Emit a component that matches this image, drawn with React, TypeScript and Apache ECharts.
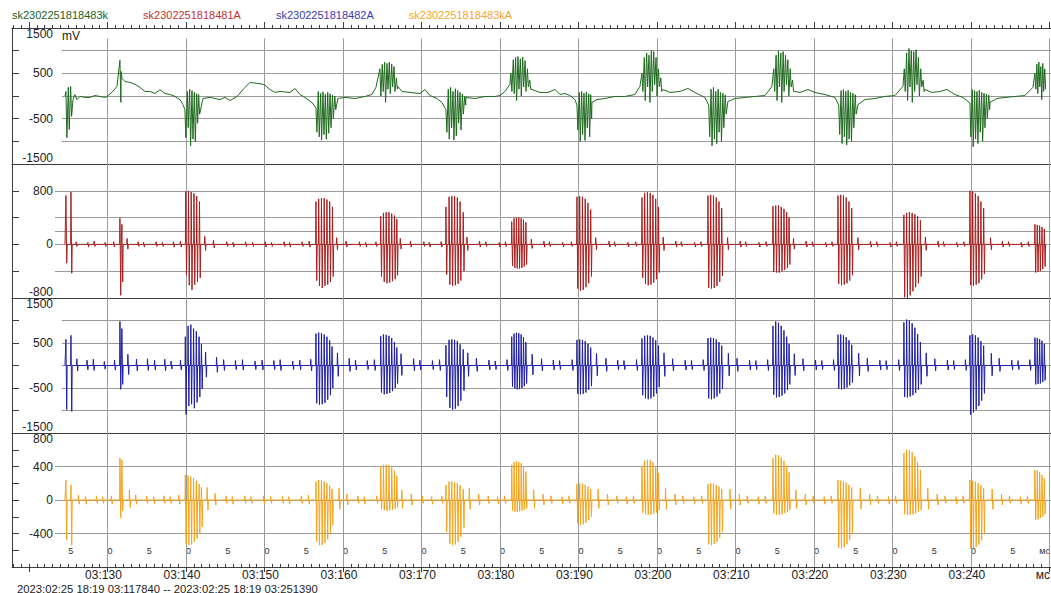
import React, { useEffect, useRef } from 'react';
import * as echarts from 'echarts';

// ---------- data ----------
const SERIES_NAMES = ['sk2302251818483k', 'sk2302251818481A', 'sk2302251818482A', 'sk2302251818483kA'];
const LINE_COLORS = ['#1f6a1f', '#a81e1e', '#1f1fa3', '#f5a31c'];
const LEGEND_COLORS = ['#1d5f1d', '#c33030', '#3b3bb3', '#f4a52a'];

const T_MIN = 117.84;
const T_MAX = 250.2;
const T_FIRST = 124.59;
const T_LAST = 249.6;

const TIME_LABELS = [130, 140, 150, 160, 170, 180, 190, 200, 210, 220, 230, 240];
const VERTICAL_LINES = [130, 140, 150, 160, 170, 180, 190, 200, 210, 220, 230, 240, 250];
const MAJOR_TICKS = [120, 130, 140, 150, 160, 170, 180, 190, 200, 210, 220, 230, 240, 250];
const HALF_LABELS = [125, 130, 135, 140, 145, 150, 155, 160, 165, 170, 175, 180, 185, 190, 195, 200, 205, 210, 215, 220, 225, 230, 235, 240, 245];

const Y_LABELS_1 = [1500, 500, -500, -1500];
const Y_LABELS_2 = [800, 0, -800];
const Y_LABELS_3 = [1500, 500, -500, -1500];
const Y_LABELS_4 = [800, 400, 0, -400];

const H_LINES_1 = [1000, 500, 0, -500, -1000];
const H_LINES_2 = [800, 400, 200, 0, -400];
const H_LINES_3 = [1000, 500, 0, -500, -1000];
const H_LINES_4 = [400, 0, -400];

// start time of each burst of pulses (shared by all four channels)
const BURST_STARTS = [124.71, 131.59, 139.87, 156.56, 164.71, 173.12, 181.4, 189.81, 198.09, 206.5, 214.78, 223.06, 231.46, 239.87, 248.15];

// green channel: slow baseline [t, mV]
const GREEN_BASE = [
  [124.59, 0], [125.61, -80], [125.86, 30], [126.11, -80], [126.5, -10], [127.13, -30], [127.77, -30], [128.41, 10], [129.04, -10], [129.68, -30], [129.94, -10], [130.57, 80], [131.21, 210],
  [131.97, 370], [132.23, 320], [132.87, 300], [133.5, 260], [134.14, 190], [134.78, 100], [135.41, 100], [136.05, 55], [136.69, 140], [137.32, 55], [137.96, 33], [138.6, -10], [139.24, -80], [139.62, -190],
  [142.17, -55], [143.06, -30], [144.33, -80], [144.97, -30], [145.61, -100], [146.5, -10], [147.52, 190], [148.15, 300], [149.04, 280], [149.94, 255], [150.7, 144], [151.34, 78], [151.97, 100], [153.25, 78], [153.89, 166], [154.52, 33], [155.16, -33], [156.05, -144],
  [159.36, -55], [160.25, -30], [161.53, -55], [162.8, -10], [163.69, 33], [164.2, 190],
  [167.01, 210], [167.52, 100], [168.54, 78], [169.81, 55], [170.45, 144], [171.08, 10], [171.97, -55], [172.61, -144],
  [175.67, -33], [176.82, -55], [178.09, -10], [179.36, -10], [180.0, 10], [180.64, 100], [181.27, 255],
  [184.08, 144], [185.1, 78], [186.11, 78], [187.01, 144], [187.64, 33], [188.28, 55], [188.92, 10], [189.55, -78],
  [191.72, -144], [192.36, -78], [193.38, -55], [194.65, -10], [195.92, -10], [197.2, 33], [197.83, 210],
  [200.76, 144], [201.66, 78], [202.93, 100], [203.95, 166], [204.84, 78], [206.11, -33],
  [209.04, -122], [209.94, -55], [211.21, -33], [212.48, -10], [213.76, 10], [214.65, 210],
  [217.58, 100], [218.22, 78], [219.24, 144], [220.13, 78], [221.4, 33], [222.68, -33],
  [225.61, -190], [226.5, -78], [227.77, -55], [229.04, -10], [230.32, 10], [231.34, 210],
  [234.14, 144], [235.03, 78], [236.05, 100], [236.94, 144], [237.96, 33], [238.98, -33],
  [242.42, -144], [243.31, -55], [244.33, -33], [245.61, -10], [246.88, 10], [247.9, 190],
  [249.6, 150],
];

// pulses inside each burst: [offset from burst start, high mV, low mV]
const GREEN_SPIKES = [
  [[0, 100, -920], [0.3, 190, -740], [0.6, 210, -450]],
  [[0, 790, -140], [0.15, 540, 380]],
  [[0, -300, -920], [0.3, 100, -700], [0.6, 150, -1100], [0.9, 120, -950], [1.2, 80, -1000], [1.5, 50, -600], [1.75, 30, -400]],
  [[0, -260, -800], [0.3, 100, -900], [0.6, 60, -970], [0.9, 90, -850], [1.2, 40, -950], [1.5, 80, -820], [1.8, 50, -700], [2.1, 20, -500], [2.4, 0, -300]],
  [[0, 600, 0], [0.3, 700, 100], [0.6, 750, -140], [0.9, 720, 150], [1.2, 740, 50], [1.5, 700, 200], [1.8, 650, 100], [2.1, 400, 150]],
  [[0, -300, -800], [0.3, 150, -950], [0.6, 190, -700], [0.9, 100, -970], [1.2, 160, -880], [1.5, 120, -600], [1.8, 80, -750], [2.1, 40, -400], [2.4, 0, -200]],
  [[0, 500, 100], [0.3, 800, 50], [0.6, 850, -100], [0.9, 870, 150], [1.2, 820, 0], [1.5, 860, 200], [1.8, 780, 100], [2.1, 600, 200], [2.4, 350, 150]],
  [[0, -200, -750], [0.3, 80, -1000], [0.6, 100, -850], [0.9, 60, -980], [1.2, 90, -700], [1.5, 50, -900], [1.75, 30, -500]],
  [[0, 500, 100], [0.3, 850, -100], [0.6, 950, 200], [0.9, 900, -140], [1.2, 1000, 100], [1.5, 980, 250], [1.8, 850, 0], [2.1, 600, 200], [2.4, 400, 100]],
  [[0.1, -200, -900], [0.4, 150, -1100], [0.7, 190, -950], [1.0, 100, -1050], [1.3, 150, -800], [1.6, 80, -1000], [1.9, 60, -700], [2.2, 20, -400]],
  [[0.1, 600, 100], [0.4, 900, -100], [0.7, 1000, 200], [1.0, 950, -140], [1.3, 980, 100], [1.6, 900, 250], [1.9, 800, 0], [2.2, 600, 200], [2.5, 350, 100]],
  [[0.1, -200, -850], [0.4, 120, -1050], [0.7, 144, -900], [1.0, 100, -1080], [1.3, 130, -950], [1.6, 80, -1000], [1.9, 60, -700], [2.2, 30, -400]],
  [[0.05, 600, 100], [0.35, 950, -100], [0.65, 1050, 200], [0.95, 1000, -140], [1.25, 980, 100], [1.55, 1020, 250], [1.85, 850, 0], [2.15, 600, 200], [2.45, 350, 100]],
  [[0, -150, -900], [0.3, 144, -1120], [0.6, 120, -950], [0.9, 100, -1050], [1.2, 130, -800], [1.5, 80, -1000], [1.8, 60, -700], [2.1, 40, -500], [2.4, 20, -300]],
  [[0, 500, 150], [0.25, 700, 50], [0.5, 750, 200], [0.75, 650, -80], [1.0, 720, 100], [1.25, 600, 150]],
];

const RED_SPIKES = [
  [[0, 730, -280], [0.64, 780, -430]],
  [[0, 390, -760], [0.25, 300, -560]],
  [[0.1, 790, -460], [0.45, 800, -610], [0.8, 780, -680], [1.15, 760, -600], [1.5, 720, -560], [1.85, 640, -500]],
  [[0, 640, -540], [0.35, 680, -620], [0.7, 690, -650], [1.05, 690, -620], [1.4, 670, -600], [1.75, 640, -560], [2.1, 560, -480]],
  [[0.1, 420, -480], [0.45, 470, -560], [0.8, 480, -580], [1.15, 480, -570], [1.5, 460, -550], [1.85, 430, -520], [2.15, 380, -460]],
  [[0, 560, -450], [0.4, 710, -600], [0.75, 720, -620], [1.1, 720, -610], [1.45, 700, -590], [1.8, 640, -540], [2.2, 480, -400]],
  [[0.1, 340, -320], [0.4, 390, -350], [0.7, 400, -360], [1.0, 400, -360], [1.3, 390, -350], [1.6, 370, -330], [1.9, 330, -300]],
  [[0, 710, -660], [0.35, 720, -690], [0.7, 710, -680], [1.05, 680, -640], [1.4, 620, -580], [1.75, 520, -480]],
  [[0, 700, -500], [0.35, 770, -590], [0.7, 780, -610], [1.05, 770, -600], [1.4, 740, -570], [1.75, 680, -520], [2.1, 560, -420]],
  [[0, 730, -650], [0.35, 740, -660], [0.7, 730, -650], [1.05, 700, -620], [1.4, 640, -560], [1.75, 540, -470]],
  [[0, 570, -410], [0.35, 580, -420], [0.7, 580, -420], [1.05, 560, -400], [1.4, 530, -380], [1.75, 480, -350], [2.05, 400, -300]],
  [[0, 730, -590], [0.35, 740, -610], [0.7, 730, -600], [1.05, 700, -580], [1.4, 640, -540], [1.75, 540, -460]],
  [[0, 440, -790], [0.35, 470, -800], [0.7, 480, -760], [1.05, 470, -700], [1.4, 450, -640], [1.75, 420, -580], [2.1, 360, -480]],
  [[0, 800, -610], [0.35, 790, -620], [0.7, 760, -600], [1.05, 720, -580], [1.4, 640, -520], [1.75, 540, -440]],
  [[0, 300, -420], [0.3, 290, -410], [0.6, 280, -400], [0.9, 260, -370], [1.2, 230, -330]],
];

const BLUE_SPIKES = [
  [[0, 580, -980], [0.64, 670, -1020]],
  [[0, 980, -530], [0.25, 820, -420]],
  [[0.05, 640, -1090], [0.4, 880, -900], [0.75, 910, -860], [1.1, 820, -950], [1.45, 760, -820], [1.8, 640, -700], [2.1, 480, -520]],
  [[0, 710, -840], [0.35, 730, -870], [0.7, 720, -860], [1.05, 690, -830], [1.4, 640, -760], [1.75, 560, -660], [2.05, 420, -500]],
  [[0.1, 650, -600], [0.45, 690, -640], [0.8, 680, -630], [1.15, 660, -610], [1.5, 610, -570], [1.85, 520, -500], [2.15, 400, -400]],
  [[0, 450, -700], [0.4, 570, -940], [0.75, 580, -980], [1.1, 570, -960], [1.45, 540, -900], [1.8, 470, -780], [2.2, 360, -560]],
  [[0.1, 640, -470], [0.4, 710, -510], [0.7, 730, -530], [1.0, 720, -525], [1.3, 690, -500], [1.6, 630, -460], [1.9, 520, -400]],
  [[0, 570, -630], [0.35, 580, -640], [0.7, 570, -630], [1.05, 540, -600], [1.4, 480, -540], [1.75, 400, -460]],
  [[0, 600, -660], [0.35, 660, -730], [0.7, 670, -750], [1.05, 660, -730], [1.4, 620, -690], [1.75, 560, -620], [2.1, 440, -480]],
  [[0, 610, -730], [0.35, 620, -750], [0.7, 610, -730], [1.05, 580, -690], [1.4, 520, -620], [1.75, 440, -520]],
  [[0, 880, -650], [0.35, 980, -710], [0.7, 950, -700], [1.05, 880, -670], [1.4, 780, -620], [1.75, 640, -540], [2.05, 480, -420]],
  [[0, 685, -520], [0.35, 690, -530], [0.7, 670, -520], [1.05, 630, -490], [1.4, 560, -440], [1.75, 460, -380]],
  [[0, 960, -700], [0.35, 1020, -710], [0.7, 1000, -690], [1.05, 940, -660], [1.4, 840, -610], [1.75, 700, -540], [2.1, 520, -420]],
  [[0, 670, -1090], [0.35, 690, -1040], [0.7, 670, -980], [1.05, 620, -900], [1.4, 540, -780], [1.75, 440, -620]],
  [[0, 620, -420], [0.3, 610, -410], [0.6, 590, -400], [0.9, 550, -370], [1.2, 480, -330]],
];

const ORANGE_SPIKES = [
  [[0, 240, -480], [0.64, 180, -540]],
  [[0, 500, -210], [0.25, 480, -130]],
  [[0.05, 300, -520], [0.4, 290, -540], [0.75, 280, -530], [1.1, 260, -500], [1.45, 230, -460], [1.8, 190, -400], [2.1, 150, -320]],
  [[0, 220, -500], [0.35, 240, -540], [0.7, 235, -535], [1.05, 220, -510], [1.4, 200, -470], [1.75, 170, -400], [2.05, 130, -300]],
  [[0.1, 400, -110], [0.45, 420, -120], [0.8, 420, -130], [1.15, 415, -125], [1.5, 390, -115], [1.85, 350, -105], [2.15, 290, -90]],
  [[0, 180, -380], [0.4, 220, -520], [0.75, 220, -540], [1.1, 215, -530], [1.45, 200, -500], [1.8, 175, -440], [2.2, 130, -330]],
  [[0.1, 420, -130], [0.4, 450, -140], [0.7, 460, -140], [1.0, 455, -135], [1.3, 440, -130], [1.6, 400, -115], [1.9, 340, -100]],
  [[0, 190, -280], [0.35, 200, -300], [0.7, 195, -290], [1.05, 180, -270], [1.4, 160, -240], [1.75, 130, -200]],
  [[0, 400, -150], [0.35, 470, -170], [0.7, 480, -180], [1.05, 475, -175], [1.4, 450, -165], [1.75, 400, -150], [2.1, 320, -120]],
  [[0, 190, -530], [0.35, 200, -540], [0.7, 195, -525], [1.05, 180, -500], [1.4, 160, -450], [1.75, 130, -380]],
  [[0, 500, -160], [0.35, 540, -180], [0.7, 535, -175], [1.05, 510, -170], [1.4, 470, -155], [1.75, 410, -140], [2.05, 330, -120]],
  [[0, 240, -570], [0.35, 230, -580], [0.7, 220, -565], [1.05, 205, -530], [1.4, 180, -480], [1.75, 150, -400]],
  [[0, 560, -170], [0.35, 600, -180], [0.7, 595, -178], [1.05, 570, -170], [1.4, 520, -160], [1.75, 450, -145], [2.1, 360, -120]],
  [[0, 240, -580], [0.35, 230, -575], [0.7, 220, -560], [1.05, 200, -530], [1.4, 175, -480], [1.75, 140, -400]],
  [[0, 360, -240], [0.3, 350, -230], [0.6, 330, -215], [0.9, 300, -200], [1.2, 260, -170]],
];

// small baseline pulses between bursts: [t, high mV, low mV]
const RED_RIPPLES = [
  [126.0, 40, -30], [127.5, 30, -40], [128.3, 50, -30], [129.7, 30, -30], [130.8, 40, -40],
  [132.5, 90, -70], [133.9, 40, -30], [134.6, 30, -40], [136.2, 40, -30], [137.0, 30, -30], [138.4, 40, -40], [139.3, 50, -40],
  [142.4, 120, -90], [143.5, 60, -50], [145.2, 40, -30], [146.0, 30, -40], [147.6, 40, -30], [148.5, 30, -30], [150.1, 40, -40], [150.9, 30, -30], [152.5, 40, -30], [153.2, 30, -40], [154.8, 40, -30], [155.7, 50, -40],
  [159.2, 100, -80], [160.4, 50, -40], [162.1, 40, -30], [162.9, 30, -40], [164.2, 40, -30],
  [167.3, 90, -70], [168.6, 50, -40], [170.3, 40, -30], [171.0, 30, -40], [172.5, 40, -40],
  [175.8, 110, -90], [177.4, 50, -40], [178.2, 40, -30], [179.9, 30, -40], [180.7, 40, -30],
  [184.0, 80, -60], [185.6, 50, -40], [186.3, 40, -30], [188.0, 30, -40], [189.1, 40, -30],
  [192.2, 100, -80], [193.9, 50, -40], [194.6, 40, -30], [196.3, 30, -40], [197.3, 40, -30],
  [200.8, 110, -90], [202.4, 50, -40], [203.1, 40, -30], [204.8, 30, -40], [205.6, 40, -30],
  [209.0, 100, -80], [210.6, 50, -40], [211.3, 40, -30], [213.0, 30, -40], [213.9, 40, -30],
  [217.4, 90, -70], [219.0, 50, -40], [219.8, 40, -30], [221.5, 30, -40], [222.3, 40, -30],
  [225.6, 100, -80], [227.2, 50, -40], [228.0, 40, -30], [229.7, 30, -40], [230.5, 40, -30],
  [234.2, 110, -90], [235.8, 50, -40], [236.5, 40, -30], [238.2, 30, -40], [239.1, 40, -30],
  [242.5, 100, -80], [244.0, 50, -40], [244.8, 40, -30], [246.4, 30, -40], [247.3, 40, -30],
];

const BLUE_RIPPLES = [
  [126.1, 150, -120], [127.4, 120, -100], [128.2, 140, -110], [129.6, 90, -80], [130.9, 120, -100],
  [132.6, 250, -200], [133.7, 140, -120], [135.1, 150, -110], [136.0, 120, -100], [137.3, 140, -120], [138.1, 100, -80], [139.3, 120, -100],
  [142.5, 300, -260], [143.9, 180, -150], [144.8, 130, -110], [146.3, 110, -90], [147.2, 130, -100], [148.8, 100, -90], [149.7, 120, -100], [151.2, 110, -90], [152.0, 130, -110], [153.6, 100, -90], [154.5, 120, -100], [155.9, 140, -120],
  [159.3, 280, -240], [160.8, 160, -130], [161.6, 120, -100], [163.1, 110, -90], [164.0, 130, -110],
  [167.4, 260, -220], [169.0, 150, -120], [169.8, 120, -100], [171.4, 110, -90], [172.3, 130, -110],
  [175.9, 280, -240], [177.0, 160, -130], [178.6, 120, -100], [179.4, 100, -90], [180.9, 130, -110],
  [184.1, 250, -210], [185.3, 150, -120], [186.8, 120, -100], [187.6, 110, -90], [189.2, 130, -110],
  [192.3, 270, -230], [193.5, 160, -130], [195.0, 120, -100], [195.8, 110, -90], [197.4, 130, -110],
  [200.9, 280, -240], [202.0, 150, -120], [203.6, 120, -100], [204.4, 110, -90], [205.9, 130, -110],
  [209.1, 270, -230], [210.2, 160, -130], [211.8, 120, -100], [212.6, 110, -90], [214.1, 130, -110],
  [217.5, 260, -220], [218.6, 150, -120], [220.2, 120, -100], [221.0, 110, -90], [222.5, 130, -110],
  [225.7, 270, -230], [226.8, 160, -130], [228.4, 120, -100], [229.2, 110, -90], [230.8, 130, -110],
  [234.3, 280, -240], [235.4, 150, -120], [237.0, 120, -100], [237.8, 110, -90], [239.3, 130, -110],
  [242.6, 270, -230], [243.6, 160, -130], [245.2, 120, -100], [246.0, 110, -90], [247.5, 130, -110],
];

const ORANGE_RIPPLES = [
  [126.3, 60, -50], [127.2, 40, -50], [128.6, 50, -40], [129.4, 40, -40], [130.5, 50, -50],
  [132.8, 120, -90], [133.6, 60, -50], [135.0, 50, -40], [135.9, 40, -50], [137.2, 50, -40], [138.0, 40, -40], [139.1, 60, -50],
  [142.7, 150, -120], [143.7, 80, -60], [145.1, 50, -40], [145.9, 40, -50], [147.5, 50, -40], [148.3, 40, -40], [149.9, 50, -50], [150.8, 40, -40], [152.3, 50, -40], [153.1, 40, -50], [154.7, 50, -40], [155.6, 60, -50],
  [159.5, 140, -110], [160.5, 70, -60], [161.9, 50, -40], [162.7, 40, -50], [164.3, 50, -40],
  [167.5, 120, -100], [168.7, 70, -60], [170.1, 50, -40], [171.3, 40, -50], [172.6, 50, -40],
  [176.1, 140, -110], [177.3, 70, -60], [178.5, 50, -40], [179.7, 40, -50], [180.6, 50, -40],
  [184.3, 120, -100], [185.5, 70, -60], [186.5, 50, -40], [187.9, 40, -50], [188.8, 50, -40],
  [192.5, 130, -100], [193.7, 70, -60], [194.9, 50, -40], [196.1, 40, -50], [197.0, 50, -40],
  [201.1, 140, -110], [202.3, 70, -60], [203.3, 50, -40], [204.7, 40, -50], [205.7, 50, -40],
  [209.3, 130, -110], [210.5, 70, -60], [211.5, 50, -40], [212.9, 40, -50], [213.8, 50, -40],
  [217.7, 120, -100], [218.9, 70, -60], [219.9, 50, -40], [221.3, 40, -50], [222.2, 50, -40],
  [225.9, 140, -110], [227.1, 70, -60], [228.1, 50, -40], [229.5, 40, -50], [230.4, 50, -40],
  [234.5, 140, -110], [235.7, 70, -60], [236.7, 50, -40], [238.1, 40, -50], [239.0, 50, -40],
  [242.7, 130, -110], [243.9, 70, -60], [244.9, 50, -40], [246.3, 40, -50], [247.2, 50, -40],
];

const FOOTER_TEXT = '2023:02:25 18:19 03:117840 -- 2023:02:25 18:19 03:251390';
const TIME_UNIT = 'мс';

// ---------- building ----------
type Spike = [number, number, number];

function burstEvents(bursts: number[][][]): Spike[] {
  const ev: Spike[] = [];
  bursts.forEach((b, i) => b.forEach((s) => ev.push([BURST_STARTS[i] + s[0], s[1], s[2]])));
  return ev;
}

function buildPulses(bursts: number[][][], ripples: number[][]) {
  const ev = burstEvents(bursts).concat(ripples.map((r) => [r[0], r[1], r[2]] as Spike));
  ev.sort((a, b) => a[0] - b[0]);
  const pts: number[][] = [[T_FIRST, 0]];
  ev.forEach(([t, hi, lo]) => {
    pts.push([t - 0.04, 0], [t, hi], [t + 0.1, lo], [t + 0.16, 0]);
  });
  pts.push([T_LAST, 0]);
  return pts;
}

function buildGreen() {
  const pts: number[][] = GREEN_BASE.map((p) => [p[0], p[1]]);
  burstEvents(GREEN_SPIKES).forEach(([t, hi, lo]) => {
    pts.push([t, hi], [t + 0.12, lo]);
  });
  pts.sort((a, b) => a[0] - b[0]);
  return pts;
}

const FONT = '"Liberation Sans", Arial, Helvetica, sans-serif';
const FRAME = '#3c3c3c';
const GRID_COLOR = '#9a9a9a';
const TEXT = '#222222';

const App: React.FC = () => {
  const ref = useRef<HTMLDivElement>(null);

  useEffect(() => {
    if (!ref.current) return;
    const chart = echarts.init(ref.current, undefined, { renderer: 'svg' });

    const seriesData = [
      buildGreen(),
      buildPulses(RED_SPIKES, RED_RIPPLES),
      buildPulses(BLUE_SPIKES, BLUE_RIPPLES),
      buildPulses(ORANGE_SPIKES, ORANGE_RIPPLES),
    ];

    const panels = [
      { top: 28, height: 136, min: -1500, max: 1500, interval: 500, labels: Y_LABELS_1, hLines: H_LINES_1, hStart: 124.2, vTop: 1270 },
      { top: 164, height: 134, min: -800, max: 1200, interval: 400, labels: Y_LABELS_2, hLines: H_LINES_2, hStart: 123.31, vTop: 1200 },
      { top: 298, height: 135, min: -1500, max: 1500, interval: 500, labels: Y_LABELS_3, hLines: H_LINES_3, hStart: 124.2, vTop: 1500 },
      { top: 433, height: 134, min: -800, max: 800, interval: 200, labels: Y_LABELS_4, hLines: H_LINES_4, hStart: 123.31, vTop: 800 },
    ];

    const minorTicks: number[] = [];
    for (let t = 118; t <= 250; t++) minorTicks.push(t);

    const grids = panels.map((p) => ({
      left: 12,
      right: 0,
      top: p.top,
      height: p.height,
      containLabel: false,
      outerBoundsMode: 'none',
      show: false,
    }));

    const baseX = (gi: number) => ({
      gridIndex: gi,
      type: 'value',
      min: T_MIN,
      max: T_MAX,
      splitLine: { show: false },
      axisPointer: { show: false },
    });

    const xAxes: any[] = panels.map((p, i) => ({
      ...baseX(i),
      position: 'bottom',
      axisLine: { show: true, onZero: false, lineStyle: { color: FRAME, width: 1 } },
      axisTick:
        i === 3
          ? { show: true, inside: true, length: 3, customValues: minorTicks, lineStyle: { color: FRAME } }
          : { show: false },
      axisLabel:
        i === 3
          ? {
              show: true,
              inside: true,
              customValues: HALF_LABELS,
              formatter: (v: number) => String(Math.round(v) % 10),
              fontSize: 9,
              fontFamily: FONT,
              color: '#333',
              align: 'left',
              verticalAlign: 'middle',
              margin: 16,
            }
          : { show: false },
    }));
    xAxes.push({
      ...baseX(0),
      position: 'top',
      axisLine: { show: true, onZero: false, lineStyle: { color: FRAME, width: 1 } },
      axisTick: { show: true, inside: false, length: 3, customValues: minorTicks, lineStyle: { color: FRAME } },
      axisLabel: { show: false },
    });
    xAxes.push({
      ...baseX(0),
      position: 'top',
      axisLine: { show: false, onZero: false },
      axisTick: { show: true, inside: false, length: 6, customValues: MAJOR_TICKS, lineStyle: { color: FRAME } },
      axisLabel: { show: false },
    });
    xAxes.push({
      ...baseX(3),
      position: 'bottom',
      axisLine: { show: false, onZero: false },
      axisTick: { show: true, inside: false, length: 5, customValues: MAJOR_TICKS, lineStyle: { color: FRAME } },
      axisLabel: {
        show: true,
        customValues: TIME_LABELS,
        formatter: (v: number) => '03:' + Math.round(v),
        fontSize: 12,
        fontFamily: FONT,
        color: TEXT,
        margin: 2,
        padding: [0, 8, 0, 0],
      },
    });

    const yAxes = panels.map((p, i) => ({
      gridIndex: i,
      type: 'value',
      min: p.min,
      max: p.max,
      interval: p.interval,
      axisLine: { show: true, onZero: false, lineStyle: { color: FRAME, width: 1 } },
      axisTick: { show: true, inside: true, length: 7, lineStyle: { color: FRAME } },
      splitLine: { show: false },
      axisPointer: { show: false },
      axisLabel: {
        show: true,
        inside: true,
        align: 'right',
        margin: 41,
        fontSize: 12,
        fontFamily: FONT,
        color: TEXT,
        showMinLabel: true,
        showMaxLabel: true,
        verticalAlignMaxLabel: 'top',
        verticalAlignMinLabel: 'bottom',
        formatter: (v: number) => (p.labels.indexOf(v) >= 0 ? String(v) : ''),
      },
    }));

    const gridLineSeries = panels.map((p, i) => ({
      type: 'line',
      xAxisIndex: i,
      yAxisIndex: i,
      data: [[T_MIN, 0]],
      symbol: 'none',
      silent: true,
      z: 1,
      lineStyle: { opacity: 0 },
      markLine: {
        silent: true,
        symbol: ['none', 'none'],
        animation: false,
        z: 1,
        label: { show: false },
        emphasis: { disabled: true },
        lineStyle: { color: GRID_COLOR, width: 1, type: 'solid' },
        data: [
          ...p.hLines.map((v) => [{ coord: [p.hStart, v] }, { coord: [T_MAX, v] }]),
          ...VERTICAL_LINES.map((t) => [{ coord: [t, p.vTop] }, { coord: [t, p.min] }]),
        ],
      },
    }));

    const dataSeries = seriesData.map((pts, i) => ({
      name: SERIES_NAMES[i],
      type: 'line',
      xAxisIndex: i,
      yAxisIndex: i,
      data: pts,
      symbol: 'none',
      showSymbol: false,
      silent: true,
      z: 10,
      lineStyle: { color: LINE_COLORS[i], width: 1 },
      itemStyle: { color: LINE_COLORS[i] },
      emphasis: { disabled: true },
    }));

    chart.setOption({
      animation: false,
      backgroundColor: '#ffffff',
      textStyle: { fontFamily: FONT },
      legend: {
        left: 7,
        top: 9,
        padding: 0,
        itemWidth: 0,
        itemHeight: 0,
        itemGap: 30,
        selectedMode: false,
        icon: 'rect',
        itemStyle: { opacity: 0 },
        lineStyle: { opacity: 0 },
        textStyle: { fontSize: 11, fontFamily: FONT },
        data: SERIES_NAMES.map((n, i) => ({ name: n, textStyle: { color: LEGEND_COLORS[i] } })),
      },
      grid: grids,
      xAxis: xAxes,
      yAxis: yAxes,
      series: [...gridLineSeries, ...dataSeries],
      graphic: [
        { type: 'text', left: 62, top: 30, silent: true, style: { text: 'mV', fontSize: 12, fontFamily: FONT, fill: TEXT } },
        { type: 'text', right: 1, top: 546, silent: true, style: { text: TIME_UNIT, fontSize: 9, fontFamily: FONT, fill: '#333' } },
        { type: 'text', right: 1, top: 569, silent: true, style: { text: TIME_UNIT, fontSize: 12, fontFamily: FONT, fill: TEXT } },
        { type: 'text', left: 17, top: 583, silent: true, style: { text: FOOTER_TEXT, fontSize: 11.25, fontFamily: FONT, fill: TEXT } },
      ],
    });

    return () => {
      chart.dispose();
    };
  }, []);

  return (
    <div
      ref={ref}
      style={{ position: 'fixed', left: 0, top: 0, width: '1051px', height: '593px', background: '#fff' }}
    />
  );
};

export default App;
